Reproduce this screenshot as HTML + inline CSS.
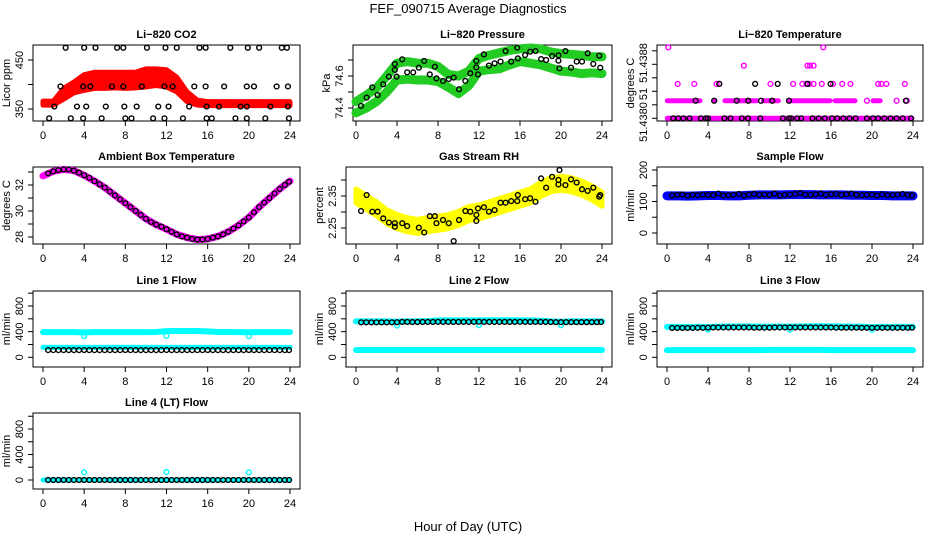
<!DOCTYPE html>
<html><head><meta charset="utf-8">
<style>
html,body{margin:0;padding:0;background:#fff;}
svg{display:block;font-family:"Liberation Sans",Arial,sans-serif;}
</style></head>
<body>
<svg id="chart" width="936" height="540" viewBox="0 0 936 540" xmlns="http://www.w3.org/2000/svg">
<rect width="936" height="540" fill="#fff"/>
<text x="468" y="13" text-anchor="middle" font-size="13">FEF_090715  Average Diagnostics</text>
<text x="468" y="531" text-anchor="middle" font-size="13">Hour of Day (UTC)</text>
</svg>
<script>
const hourly=[0,1,2,3,4,5,6,7,8,9,10,11,12,13,14,15,16,17,18,19,20,21,22,23,24];
const halfHours=[0.5,1,1.5,2,2.5,3,3.5,4,4.5,5,5.5,6,6.5,7,7.5,8,8.5,9,9.5,10,10.5,11,11.5,12,12.5,13,13.5,14,14.5,15,15.5,16,16.5,17,17.5,18,18.5,19,19.5,20,20.5,21,21.5,22,22.5,23,23.5,23.9];
const xTicks=[0,4,8,12,16,20,24];

// CO2
const co2Hi=[366,366,392,405,420,425,425,425,425,425,432,432,430,415,385,368,365,365,365,365,365,365,365,365,365];
const co2Lo=[358,358,370,383,388,392,392,393,392,393,395,398,395,385,365,358,357,357,357,357,357,357,357,357,357];
const co2BlackHours=[2.2,4.0,5.1,7.2,7.8,10.1,11.9,13.0,15.2,15.8,18.2,19.9,21.0,23.2,23.7,1.7,3.9,4.6,6.7,7.8,9.6,11.8,12.6,14.7,15.8,17.6,19.8,20.5,22.7,23.8,1.1,3.3,4.2,6.1,7.9,9.1,11.2,12.2,14.2,15.9,17.1,19.2,19.8,22.1,23.8,0.6,2.7,3.9,5.7,8.0,8.6,10.7,11.8,13.6,15.9,16.4,18.7,19.8,21.6,23.9];
const co2BlackVals=[475,475,475,475,475,475,475,475,475,475,475,475,475,475,475,396,396,396,396,396,396,396,396,396,396,396,396,396,396,396,355,355,355,355,355,355,355,355,355,355,355,355,355,355,355,331,331,331,331,331,331,331,331,331,331,331,331,331,331,331];

// Pressure
const presUpper=[74.44,74.48,74.525,74.60,74.68,74.69,74.68,74.68,74.66,74.61,74.60,74.63,74.71,74.73,74.745,74.76,74.77,74.775,74.77,74.75,74.74,74.735,74.73,74.72,74.72];
const presLower=[74.37,74.40,74.44,74.50,74.575,74.58,74.575,74.575,74.565,74.53,74.49,74.54,74.63,74.64,74.645,74.67,74.69,74.68,74.67,74.65,74.63,74.625,74.615,74.62,74.615];
const presBlackHours=[0.49,1.04,1.59,2.11,2.66,3.21,3.79,3.79,3.96,4.51,4.99,5.58,6.13,6.65,7.2,7.69,7.85,8.49,9.05,9.53,10.05,10.67,11.15,11.74,11.74,11.9,12.48,12.97,13.52,14.1,14.59,15.14,15.73,15.79,16.5,16.99,17.51,18.06,18.55,19.13,19.75,19.85,19.75,20.43,20.98,21.53,22.05,22.6,23.15,23.73,23.83];
const presBlackVals=[74.413,74.465,74.529,74.481,74.548,74.596,74.675,74.638,74.596,74.704,74.623,74.623,74.652,74.694,74.610,74.658,74.585,74.569,74.581,74.590,74.517,74.569,74.617,74.654,74.694,74.610,74.735,74.665,74.679,74.690,74.756,74.690,74.777,74.710,74.731,74.752,74.756,74.706,74.700,74.725,74.729,74.648,74.696,74.756,74.652,74.690,74.690,74.742,74.675,74.727,74.652];

// Li-820 temperature
const tmpLvl=[51.4380,51.43826,51.43851,51.43878,51.43905];
const tmpMagSegStart=[0.03,4.68,5.65,9.4,11.83,16.39,20.1];
const tmpMagSegEnd=[3.22,4.68,8.74,10.86,15.9,18.34,20.8];
const tmpMagHours=[19.5,22.4,23.4,1.04,2.66,4.84,5.1,10.1,12.3,13.2,13.6,13.9,14.3,15.1,16.2,17.1,17.9,20.6,20.9,21.4,23.2,7.5,13.7,13.95,14.3,0.13,15.25];
const tmpMagVals=[51.43826,51.43826,51.43826,51.43851,51.43851,51.43851,51.43851,51.43851,51.43851,51.43851,51.43851,51.43851,51.43851,51.43851,51.43851,51.43851,51.43851,51.43851,51.43851,51.43851,51.43851,51.43878,51.43878,51.43878,51.43878,51.43905,51.43905];
const tmpBlackHours=[5.1,8.6,10.8,13.7,15.96,2.79,4.6,6.8,7.93,9.17,10.27,11.9,23.3,0.6,1.1,1.6,2.2,3.3,3.8,4.0,5.6,6.2,7.3,7.9,9.1,11.3,11.9,12.1,12.7,13.1,14.2,14.8,15.4,16.1,16.6,17.2,17.8,18.4,19.5,20.1,20.6,21.2,21.8,22.4,23.0,23.8];
const tmpBlackVals=[51.43851,51.43851,51.43851,51.43851,51.43851,51.43826,51.43826,51.43826,51.43826,51.43826,51.43826,51.43826,51.43826,51.438,51.438,51.438,51.438,51.438,51.438,51.438,51.438,51.438,51.438,51.438,51.438,51.438,51.438,51.438,51.438,51.438,51.438,51.438,51.438,51.438,51.438,51.438,51.438,51.438,51.438,51.438,51.438,51.438,51.438,51.438,51.438,51.438];

// Ambient box temperature
const ambHourly=[32.7,33.05,33.2,33.1,32.75,32.3,31.8,31.2,30.6,30.0,29.4,28.95,28.6,28.2,27.95,27.8,27.85,28.05,28.4,28.9,29.5,30.3,31.0,31.7,32.3];
const ambBlack=[32.9,33.05,33.15,33.2,33.2,33.1,32.95,32.75,32.55,32.3,32.05,31.8,31.5,31.2,30.9,30.6,30.3,30.0,29.7,29.4,29.15,28.95,28.8,28.6,28.4,28.2,28.05,27.95,27.85,27.8,27.8,27.85,27.95,28.05,28.2,28.4,28.65,28.9,29.2,29.5,29.9,30.3,30.65,31.0,31.35,31.7,32.0,32.25];

// Gas stream RH
const rhHourly=[2.35,2.33,2.31,2.285,2.27,2.26,2.255,2.26,2.265,2.27,2.28,2.295,2.30,2.31,2.32,2.33,2.34,2.35,2.37,2.385,2.39,2.385,2.375,2.36,2.34];
const rhBlackHours=[0.49,1.04,1.59,2.11,2.66,3.21,3.79,3.79,4.51,4.99,6.13,6.65,7.2,7.69,7.85,8.49,9.05,9.53,10.05,10.67,11.15,11.74,11.74,11.9,12.48,12.97,13.52,14.1,14.59,15.14,15.73,15.79,16.5,16.99,17.51,18.06,18.55,19.13,19.75,19.75,19.85,20.43,20.98,21.53,22.05,22.6,23.15,23.73,23.83];
const rhBlackVals=[2.303,2.353,2.301,2.301,2.280,2.267,2.265,2.254,2.265,2.256,2.251,2.236,2.287,2.287,2.265,2.275,2.265,2.209,2.275,2.303,2.301,2.291,2.272,2.311,2.315,2.301,2.306,2.329,2.329,2.334,2.334,2.353,2.340,2.343,2.332,2.405,2.376,2.410,2.386,2.400,2.431,2.384,2.402,2.392,2.371,2.366,2.376,2.348,2.353];

// Sample flow
const sampleHourly=[118,118,117,118,119,119,118,118,120,121,121,121,122,122,122,121,121,121,120,120,119,119,118,118,118];
const sampleBlack=[119,121,122,118,121,120,122,121,120,125,119,120,121,124,119,122,124,121,122,121,125,119,121,122,124,127,122,121,123,125,121,123,124,121,123,125,121,120,121,122,119,123,120,121,122,124,121,120];

// Line flows
const l1Upper=[392,392,392,392,388,392,392,392,392,392,392,395,408,410,410,410,405,395,395,392,390,392,392,392,392];
const l1Lower=[155,155,155,155,155,155,155,155,155,155,155,155,155,155,155,155,155,155,155,155,155,155,155,155,155];
const l1DipHours=[4,12,20];
const l1DipVals=[330,335,330];
const l1Black=[112,112,112,112,112,112,112,113,112,112,112,112,112,112,112,113,112,112,112,112,112,112,112,114,112,112,112,112,112,112,112,113,112,112,112,112,112,112,112,113,112,112,112,112,112,112,112,112];
const l2Upper=[560,560,560,560,555,560,560,565,575,575,575,575,575,578,578,578,575,575,570,560,555,560,560,560,560];
const l2Lower=[114,114,114,114,114,114,114,114,114,114,114,114,114,114,114,114,114,114,114,114,114,114,114,114,114];
const l2DipHours=[4,12,20];
const l2DipVals=[495,500,500];
const l2Black=[545,545,545,545,545,545,545,547,552,552,550,550,552,552,552,553,552,552,552,552,552,552,553,555,552,552,552,552,552,552,552,553,552,552,552,552,552,550,548,548,548,548,548,548,548,548,548,550];
const l3Upper=[475,475,475,475,470,478,480,480,480,478,478,478,478,480,485,485,483,480,478,478,470,475,475,475,475];
const l3Lower=[112,112,112,112,112,112,112,112,112,112,115,115,115,115,115,115,112,112,112,112,112,112,112,112,112];
const l3DipHours=[4,12,20];
const l3DipVals=[430,430,430];
const l3Black=[458,458,458,458,458,460,460,462,465,465,465,465,465,465,465,465,462,462,462,462,465,465,465,465,465,465,465,465,465,465,465,465,462,462,462,462,462,460,460,460,460,460,460,460,460,460,460,462];
const l4Line=[0,0,0,0,0,0,0,0,0,0,0,0,0,0,0,0,0,0,0,0,0,0,0,0,0];
const l4SpikeHours=[4,12,20];
const l4SpikeVals=[120,125,120];
const l4Black=[0,0,0,0,0,0,0,0,0,0,0,0,0,0,0,0,0,0,0,0,0,0,0,0,0,0,0,0,0,0,0,0,0,0,0,0,0,0,0,0,0,0,0,0,0,0,0,0];

const NS="http://www.w3.org/2000/svg";
const svg=document.getElementById('chart');
function mk(tag,attrs,parent){const e=document.createElementNS(NS,tag);for(const k in attrs)e.setAttribute(k,attrs[k]);(parent||svg).appendChild(e);return e;}

function makePanel(c){
  const g=mk('g',{});
  
  
  c.g=g;
  c.x=h=>c.x0+(h)*(c.x24-c.x0)/24;
  c.y=v=>c.ya+(v-c.va)*(c.yb-c.ya)/(c.vb-c.va);
  return c;
}
function drawAxes(c){
  const g=c.g;
  const box=mk('rect',{x:c.left,y:c.top,width:c.right-c.left,height:c.bottom-c.top,fill:'none',stroke:'#000','stroke-width':1},g);
  
  
  const t=mk('text',{x:(c.left+c.right)/2,y:c.top-7,'text-anchor':'middle','font-size':11,'font-weight':'bold'},g);
  t.textContent=c.title;
  
  
  xTicks.forEach(h=>{
    const px=c.x(h);
    mk('line',{x1:px,x2:px,y1:c.bottom,y2:c.bottom+5,stroke:'#000'},g);
    const tl=mk('text',{x:px,y:c.bottom+18,'text-anchor':'middle','font-size':11},g);
    tl.textContent=h;
    
    
  });
  c.yTicks.forEach(v=>{
    const py=c.y(v);
    mk('line',{x1:c.left-5,x2:c.left,y1:py,y2:py,stroke:'#000'},g);
  });
  c.yLabels.forEach((s,i)=>{
    const py=c.y(c.yLabelVals[i]);
    const lx=c.left-10;
    const tl=mk('text',{x:lx,y:py,'text-anchor':'middle','font-size':11,transform:`rotate(-90 ${lx} ${py})`},g);
    tl.textContent=s;
    
    
  });
  const ax=c.left-23, ay=(c.top+c.bottom)/2;
  const yt=mk('text',{x:ax,y:ay,'text-anchor':'middle','font-size':11,transform:`rotate(-90 ${ax} ${ay})`},g);
  yt.textContent=c.ytitle;
  
  
}
function polyline(c,hours,vals,color,w,name){
  const p=mk('polyline',{points:hours.map((h,i)=>c.x(h)+','+c.y(vals[i])).join(' '),fill:'none',stroke:color,'stroke-width':w,'stroke-linejoin':'round','stroke-linecap':'round'},c.g);
  
  
}
function band(c,hours,lo,hi,color,name){
  const pts=hours.map((h,i)=>c.x(h)+','+c.y(hi[i])).concat(hours.slice().reverse().map((h,j)=>{const i=hours.length-1-j;return c.x(h)+','+c.y(lo[i]);}));
  const p=mk('polygon',{points:pts.join(' '),fill:color,stroke:color,'stroke-width':5,'stroke-linejoin':'round'},c.g);
  
  
}
function points(c,hours,vals,color,name){
  hours.forEach((h,i)=>{
    const e=mk('circle',{cx:c.x(h),cy:c.y(vals[i]),r:2.4,fill:'none',stroke:color,'stroke-width':1.4},c.g);
    
    
  });
}

const col1={left:33,right:300,x0:43,x24:290};
const col2={left:346,right:612,x0:356,x24:602};
const col3={left:657,right:923,x0:667,x24:913};
const r1={top:45,bottom:121},r2={top:167,bottom:244},r3={top:291,bottom:367},r4={top:413,bottom:489};

// CO2
let p=makePanel(Object.assign({name:'co2-panel',title:'Li\u2212820 CO2',ytitle:'Licor ppm',va:450,ya:60,vb:350,yb:109,yTicks:[350,400,450],yLabels:['350','450'],yLabelVals:[350,450]},col1,r1));
drawAxes(p);
band(p,hourly,co2Lo,co2Hi,'#ff0000','co2-series-band');
points(p,co2BlackHours,co2BlackVals,'#000','co2-average-point');

// Pressure
p=makePanel(Object.assign({name:'pressure-panel',title:'Li\u2212820 Pressure',ytitle:'kPa',va:74.6,ya:76,vb:74.4,yb:108,yTicks:[74.4,74.5,74.6,74.7],yLabels:['74.4','74.6'],yLabelVals:[74.4,74.6]},col2,r1,{left:353}));
drawAxes(p);
polyline(p,hourly,presUpper,'#22cc22',9,'pressure-upper-band');
polyline(p,hourly,presLower,'#22cc22',9,'pressure-lower-band');
points(p,presBlackHours,presBlackVals,'#000','pressure-average-point');

// Temperature
p=makePanel(Object.assign({name:'temperature-panel',title:'Li\u2212820 Temperature',ytitle:'degrees C',va:51.438,ya:118.3,vb:51.4388,yb:64.3,yTicks:[51.438,51.4382,51.4384,51.4386,51.4388,51.439],yLabels:['51.4380','51','51.4388'],yLabelVals:[51.437945,51.43836,51.438819]},col3,r1));
drawAxes(p);
polyline(p,[0.03,23.9],[tmpLvl[0],tmpLvl[0]],'#ff00ff',5,'temperature-base-band');
tmpMagSegStart.forEach((s,i)=>polyline(p,[s,tmpMagSegEnd[i]],[tmpLvl[1],tmpLvl[1]],'#ff00ff',5,'temperature-level-band'));
points(p,tmpMagHours,tmpMagVals,'#ff00ff','temperature-point');
points(p,tmpBlackHours,tmpBlackVals,'#000','temperature-average-point');

// Ambient
p=makePanel(Object.assign({name:'ambient-panel',title:'Ambient Box Temperature',ytitle:'degrees C',va:32,ya:185,vb:28,yb:237,yTicks:[28,29,30,31,32,33],yLabels:['28','30','32'],yLabelVals:[28,30,32]},col1,r2));
drawAxes(p);
polyline(p,hourly,ambHourly,'#ff00ff',7,'ambient-series-line');
points(p,halfHours,ambBlack,'#000','ambient-average-point');

// RH
p=makePanel(Object.assign({name:'rh-panel',title:'Gas Stream RH',ytitle:'percent',va:2.35,ya:196,vb:2.25,yb:228,yTicks:[2.25,2.30,2.35,2.40],yLabels:['2.25','2.35'],yLabelVals:[2.25,2.35]},col2,r2));
drawAxes(p);
band(p,hourly,rhHourly.map(v=>v-0.022),rhHourly.map(v=>v+0.022),'#ffff00','rh-series-band');
points(p,rhBlackHours,rhBlackVals,'#000','rh-average-point');

// Sample flow
p=makePanel(Object.assign({name:'sample-flow-panel',title:'Sample Flow',ytitle:'ml/min',va:0,ya:233,vb:200,yb:170,yTicks:[0,50,100,150,200],yLabels:['0','100','200'],yLabelVals:[0,100,200]},col3,r2));
drawAxes(p);
polyline(p,hourly,sampleHourly,'#0000ff',9,'sample-flow-band');
points(p,halfHours,sampleBlack,'#000','sample-flow-average-point');

// Line flows
const flowTicks=[0,200,400,600,800,1000];
function flowPanel(name,title,col,row,ya,yb){
  const q=makePanel(Object.assign({name:name,title:title,ytitle:'ml/min',va:0,ya:ya,vb:800,yb:yb,yTicks:flowTicks,yLabels:['0','400','800'],yLabelVals:[0,400,800]},col,row));
  drawAxes(q);return q;
}
p=flowPanel('line1-flow-panel','Line 1 Flow',col1,r3,357.3,306);
polyline(p,hourly,l1Upper,'#00ffff',6,'line1-upper-band');
polyline(p,hourly,l1Lower,'#00ffff',5,'line1-lower-band');
points(p,l1DipHours,l1DipVals,'#00ffff','line1-dip-point');
points(p,halfHours,l1Black,'#000','line1-average-point');

p=flowPanel('line2-flow-panel','Line 2 Flow',col2,r3,357.3,306);
polyline(p,hourly,l2Upper,'#00ffff',6,'line2-upper-band');
polyline(p,hourly,l2Lower,'#00ffff',6,'line2-lower-band');
points(p,l2DipHours,l2DipVals,'#00ffff','line2-dip-point');
points(p,halfHours,l2Black,'#000','line2-average-point');

p=flowPanel('line3-flow-panel','Line 3 Flow',col3,r3,357.3,306);
polyline(p,hourly,l3Upper,'#00ffff',6,'line3-upper-band');
polyline(p,hourly,l3Lower,'#00ffff',6,'line3-lower-band');
points(p,l3DipHours,l3DipVals,'#00ffff','line3-dip-point');
points(p,halfHours,l3Black,'#000','line3-average-point');

p=flowPanel('line4-flow-panel','Line 4 (LT) Flow',col1,r4,480,429);
polyline(p,hourly,l4Line,'#00ffff',5,'line4-band');
points(p,l4SpikeHours,l4SpikeVals,'#00ffff','line4-spike-point');
points(p,halfHours,l4Black,'#000','line4-average-point');
</script>
</body></html>
